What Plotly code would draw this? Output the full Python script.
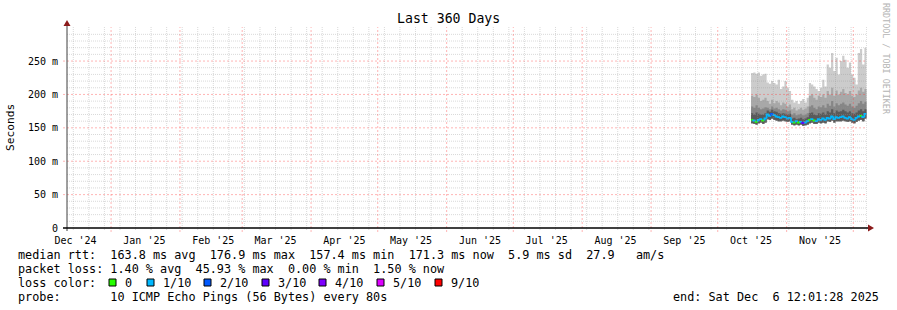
import plotly.graph_objects as go
import pandas as pd
from datetime import datetime, timedelta

# ---------------- data ----------------
days = pd.date_range("2025-10-16", periods=52, freq="D")

rtt_max = [232, 233, 231, 233, 228, 230, 231,
           218, 216, 220, 217,
           215, 222, 208, 212, 220, 210, 205,
           192, 188, 190, 186, 190, 193, 188, 195,
           217, 215, 212, 208, 205, 210, 222, 212,
           245, 240, 262, 235, 255, 230, 250, 258, 252,
           240, 248, 230, 225, 215, 262, 268, 245, 270]
rtt_p9 = [198, 196, 200, 195, 190, 192, 195,
          190, 186, 192, 187, 190, 188, 184, 188, 186, 182, 185,
          178, 180, 176, 178, 180, 177, 179, 182,
          198, 200, 195, 192, 198, 196, 200, 195,
          205, 200, 210, 198, 206, 200, 204, 208, 202, 200, 205, 198, 196, 200, 206, 210, 204, 208]
rtt_p8 = [182, 180, 184, 180, 178, 179, 181,
          180, 178, 182, 179, 180, 178, 176, 178, 177, 175, 176,
          170, 172, 169, 170, 171, 169, 170, 172,
          182, 184, 180, 178, 182, 181, 184, 180,
          186, 183, 190, 182, 187, 184, 186, 188, 185, 183, 186, 182, 180, 183, 187, 190, 186, 189]
rtt_p7 = [172, 170, 173, 171, 170, 170, 172,
          176, 174, 177, 175, 174, 172, 171, 172, 171, 170, 171,
          164, 165, 163, 164, 165, 163, 164, 166,
          172, 173, 170, 169, 172, 171, 173, 170,
          175, 173, 178, 172, 176, 174, 175, 177, 175, 173, 175, 172, 171, 173, 176, 178, 175, 178]
rtt_median = [162, 161, 159, 162, 163, 161, 164,
              170, 168, 171, 169, 167, 166, 165, 167, 166, 164, 165,
              159, 158, 160, 158, 159, 157, 158, 160,
              162, 163, 161, 160, 163, 162, 164, 162,
              165, 164, 167, 163, 166, 165, 166, 167, 165, 164, 166, 163, 162, 165, 167, 168, 166, 171]
rtt_min = [157, 156, 155, 157, 158, 156, 158,
           163, 162, 164, 162, 161, 160, 160, 161, 160, 159, 160,
           155, 154, 155, 154, 155, 153, 154, 155,
           157, 158, 156, 156, 158, 157, 158, 157,
           160, 159, 161, 158, 160, 160, 160, 161, 160, 159, 160, 158, 157, 159, 161, 162, 160, 164]
loss = [0, 1, 0, 1, 1, 0, 1,
        1, 1, 2, 1, 1, 1, 1, 1, 1, 1, 1,
        1, 0, 1, 0, 1, 3, 1, 1,
        0, 1, 0, 1, 1, 1, 1, 1,
        1, 1, 1, 1, 1, 1, 1, 1, 1, 1, 1, 1, 1, 1, 1, 0, 1, 1]

loss_levels = [0, 1, 2, 3, 4, 5, 9]
loss_labels = ["0", "1/10", "2/10", "3/10", "4/10", "5/10", "9/10"]
loss_colors = ["#26ff00", "#00b8ff", "#0059ff", "#5e00ff", "#7e00ff", "#dd00ff", "#ff0000"]

month_labels = ["Dec '24", "Jan '25", "Feb '25", "Mar '25", "Apr '25", "May '25",
                "Jun '25", "Jul '25", "Aug '25", "Sep '25", "Oct '25", "Nov '25"]
y_ticks = [0, 50, 100, 150, 200, 250]
y_ticktext = ["0", "50 m", "100 m", "150 m", "200 m", "250 m"]

stats_lines = [
    "median rtt:  163.8 ms avg  176.9 ms max  157.4 ms min  171.3 ms now  5.9 ms sd  27.9   am/s",
    "packet loss: 1.40 % avg  45.93 % max  0.00 % min  1.50 % now",
    "loss color:",
    "probe:       10 ICMP Echo Pings (56 Bytes) every 80s",
]
end_text = "end: Sat Dec  6 12:01:28 2025"

# ---------------- geometry ----------------
W, H = 897, 310
L, R, T, B = 67, 867, 27, 228
x_start = datetime(2024, 12, 12, 4, 0)
x_end = x_start + timedelta(days=360)
y_max = 301


def px(x):
    return (x - L) / (R - L)


def py(y):
    return (B - y) / (B - T)


def nb(s):
    return s.replace(" ", "\u00a0")


MONO = "DejaVu Sans Mono"

fig = go.Figure()

xs = list(days) + [days[-1] + timedelta(hours=22)]


def ext(a):
    return list(a) + [a[-1]]


def band(lo, hi, color):
    fig.add_trace(go.Scatter(x=xs, y=ext(lo), mode="lines", line=dict(width=0, shape="hv"),
                             hoverinfo="skip", showlegend=False))
    fig.add_trace(go.Scatter(x=xs, y=ext(hi), mode="lines", line=dict(width=0, shape="hv"),
                             fill="tonexty", fillcolor=color, hoverinfo="skip", showlegend=False))


band(rtt_min, rtt_max, "#cccccc")
band(rtt_min, rtt_p9, "#a8a8a8")
band(rtt_min, rtt_p8, "#868686")
band(rtt_min, rtt_p7, "#5a5a5a")


def bucket(n):
    if n >= 9:
        return 9
    if n >= 5:
        return 5
    return n


for lvl, col in zip(loss_levels, loss_colors):
    sx, sy = [], []
    for d in range(len(days)):
        if bucket(loss[d]) != lvl:
            continue
        prev = rtt_median[d - 1] if d > 0 else rtt_median[d]
        sx += [xs[d], xs[d], xs[d + 1], None]
        sy += [prev, rtt_median[d], rtt_median[d], None]
    if sx:
        fig.add_trace(go.Scatter(x=sx, y=sy, mode="lines", line=dict(color=col, width=1.8),
                                 hoverinfo="skip", showlegend=False, connectgaps=False))

shapes = []
MINOR = "rgba(150,150,150,0.36)"
MAJOR = "rgba(255,60,60,0.38)"
DASH_MINOR = "1px,1px"
DASH_MAJOR = "2px,2px"

for v in range(10, 300, 10):
    major = v % 50 == 0
    shapes.append(dict(type="line", xref="paper", yref="y", x0=px(63) if major else 0, x1=1,
                       y0=v, y1=v,
                       line=dict(color=MAJOR if major else MINOR, width=1,
                                 dash=DASH_MAJOR if major else DASH_MINOR),
                       layer="above"))

month_starts = pd.date_range("2025-01-01", "2025-12-01", freq="MS")
t = datetime(2024, 12, 15)
while t < x_end:
    if pd.Timestamp(t) not in month_starts:
        shapes.append(dict(type="line", xref="x", yref="paper", x0=t, x1=t, y0=py(230), y1=py(T),
                           line=dict(color=MINOR, width=1, dash=DASH_MINOR), layer="above"))
    t += timedelta(days=7)
for m in month_starts:
    shapes.append(dict(type="line", xref="x", yref="paper", x0=m, x1=m, y0=py(232), y1=py(T),
                       line=dict(color=MAJOR, width=1, dash=DASH_MAJOR), layer="above"))

shapes.append(dict(type="line", xref="paper", yref="paper", x0=px(67), x1=px(67), y0=py(231), y1=py(24),
                   line=dict(color="#404040", width=1), layer="above"))
shapes.append(dict(type="line", xref="paper", yref="paper", x0=px(63), x1=px(869), y0=py(228), y1=py(228),
                   line=dict(color="#000000", width=1.3), layer="above"))
ARROW = "#8b1a1a"
shapes.append(dict(type="path", xref="paper", yref="paper",
                   path=f"M {px(63.5)} {py(26)} L {px(70.5)} {py(26)} L {px(67)} {py(20)} Z",
                   fillcolor=ARROW, line=dict(width=0), layer="above"))
shapes.append(dict(type="path", xref="paper", yref="paper",
                   path=f"M {px(868)} {py(224.5)} L {px(868)} {py(231.5)} L {px(874)} {py(228)} Z",
                   fillcolor=ARROW, line=dict(width=0), layer="above"))

annotations = []
row_y = [255, 268.7, 282.5, 296.5]
for txt, yy in zip(stats_lines, row_y):
    annotations.append(dict(xref="paper", yref="paper", x=px(16), y=py(yy), text=nb(txt),
                            showarrow=False, xanchor="left", yanchor="middle",
                            font=dict(family=MONO, size=11.8, color="#000")))
annotations.append(dict(xref="paper", yref="paper", x=px(881), y=py(296.5), text=nb(end_text),
                        showarrow=False, xanchor="right", yanchor="middle",
                        font=dict(family=MONO, size=11.8, color="#000")))

box_x = [109, 147, 204, 262, 319, 377, 435]
for bx, lab, col in zip(box_x, loss_labels, loss_colors):
    shapes.append(dict(type="rect", xref="paper", yref="paper", x0=px(bx), x1=px(bx + 7),
                       y0=py(286), y1=py(279), fillcolor=col, line=dict(color="#000", width=1),
                       layer="above"))
    annotations.append(dict(xref="paper", yref="paper", x=px(bx + 13.5), y=py(282.5), text=nb(lab),
                            showarrow=False, xanchor="left", yanchor="middle",
                            font=dict(family=MONO, size=11.8, color="#000")))

annotations.append(dict(xref="paper", yref="paper", x=px(448), y=py(19), text=nb("Last 360 Days"),
                        showarrow=False, xanchor="center", yanchor="middle",
                        font=dict(family=MONO, size=13.2, color="#000")))
annotations.append(dict(xref="paper", yref="paper", x=px(11), y=py(127), text="Seconds",
                        showarrow=False, xanchor="center", yanchor="middle", textangle=-90,
                        font=dict(family=MONO, size=11.2, color="#000")))
annotations.append(dict(xref="paper", yref="paper", x=px(886), y=py(59), text=nb("RRDTOOL / TOBI OETIKER"),
                        showarrow=False, xanchor="center", yanchor="middle", textangle=90,
                        font=dict(family=MONO, size=8.4, color="#b4b4b4")))

mid_months = [datetime(2024, 12, 16)] + [datetime(2025, m, 16) for m in range(1, 12)]

fig.update_layout(
    width=W, height=H,
    margin=dict(l=L, r=W - R, t=T, b=H - B, pad=0),
    paper_bgcolor="white", plot_bgcolor="white",
    showlegend=False,
    shapes=shapes, annotations=annotations,
    xaxis=dict(type="date", range=[x_start, x_end], tickmode="array", tickvals=mid_months,
               ticktext=[nb(s) for s in month_labels], showgrid=False, zeroline=False, showline=False,
               ticks="outside", ticklen=3, tickcolor="rgba(0,0,0,0)",
               tickfont=dict(family=MONO, size=10, color="#000")),
    yaxis=dict(range=[0, y_max], tickmode="array", tickvals=y_ticks,
               ticktext=[nb(s) for s in y_ticktext], showgrid=False, zeroline=False, showline=False,
               ticks="outside", ticklen=6, tickcolor="rgba(0,0,0,0)",
               tickfont=dict(family=MONO, size=10, color="#000")),
)

fig.write_html("out.html")
